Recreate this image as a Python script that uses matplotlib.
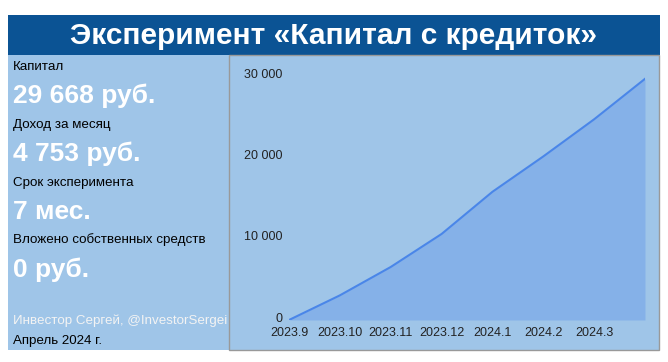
import matplotlib.pyplot as plt
import matplotlib.transforms as mtransforms
from matplotlib.patches import Rectangle
from matplotlib.ticker import FuncFormatter

# data
months = ["2023.9", "2023.10", "2023.11", "2023.12", "2024.1", "2024.2", "2024.3", "2024.4"]
capital = [0, 3030, 6520, 10580, 15770, 20120, 24690, 29668]
labeled_months = 7

stats_labels = ["Капитал", "Доход за месяц", "Срок эксперимента", "Вложено собственных средств"]
stats_values = ["29 668 руб.", "4 753 руб.", "7 мес.", "0 руб."]
title = "Эксперимент «Капитал с кредиток»"
author = "Инвестор Сергей, @InvestorSergei"
date_text = "Апрель 2024 г."

W, H = 668, 362
DARK = "#0b5394"
PANEL = "#9fc5e8"
LINE = "#4a86e8"

plt.rcParams['font.family'] = ['Liberation Sans', 'DejaVu Sans']

fig = plt.figure(figsize=(W / 100, H / 100), dpi=100)
fig.patch.set_facecolor("white")

# helper: pixel coords (from top-left) to figure fraction
def fx(x):
	return x / W

def fy(y):
	return 1 - y / H

# title band and panels (behind the axes)
fig.patches.append(Rectangle((fx(8), fy(55)), fx(652), 40 / H, transform=fig.transFigure,
	fc=DARK, ec="none", zorder=-3))
fig.patches.append(Rectangle((fx(8), fy(350)), fx(652), 295 / H, transform=fig.transFigure,
	fc=PANEL, ec="none", zorder=-3))
fig.patches.append(Rectangle((fx(229), fy(350)), fx(430), 295 / H, transform=fig.transFigure,
	fc="none", ec="#999999", lw=1.0, zorder=-2))

fig.text(fx(334), fy(36), title, color="white", fontsize=21.5, fontweight="bold",
	ha="center", va="center")

# left panel stats
label_y = [67, 125, 183, 240]
value_y = [96, 154, 212, 270]
for lab, val, ly, vy in zip(stats_labels, stats_values, label_y, value_y):
	fig.text(fx(13), fy(ly), lab, color="black", fontsize=9.6, ha="left", va="center")
	fig.text(fx(13), fy(vy), val, color="white", fontsize=19, fontweight="bold", ha="left", va="center")

fig.text(fx(13), fy(321), author, color="#f3f3f3", fontsize=9.6, ha="left", va="center")
fig.text(fx(13), fy(341), date_text, color="black", fontsize=9.6, ha="left", va="center")

# area chart
ax = fig.add_axes([fx(289), fy(320), (645 - 289) / W, (320 - 68) / H])
ax.set_facecolor("none")
x = list(range(len(months)))
ax.fill_between(x, capital, 0, color=LINE, alpha=0.3, lw=0)
ax.plot(x, capital, color=LINE, lw=1.5)
ax.set_xlim(0, len(months) - 1)
ax.set_ylim(0, 31000)
ax.set_xticks(x[:labeled_months])
ax.set_xticklabels(months[:labeled_months])
ax.set_yticks([0, 10000, 20000, 30000])
ax.yaxis.set_major_formatter(FuncFormatter(lambda v, p: f"{int(v):,}".replace(",", " ")))
ax.tick_params(length=0, labelsize=9, colors="#222222")
ax.tick_params(axis="y", pad=5)
ax.tick_params(axis="x", pad=5)
# nudge y labels up a little so "0" sits above the first month label
shift = mtransforms.ScaledTranslation(0, 3 / 100, fig.dpi_scale_trans)
for lbl in ax.get_yticklabels():
	lbl.set_transform(lbl.get_transform() + shift)
for s in ax.spines.values():
	s.set_visible(False)

fig.savefig("out.png", dpi=100, facecolor="white")
